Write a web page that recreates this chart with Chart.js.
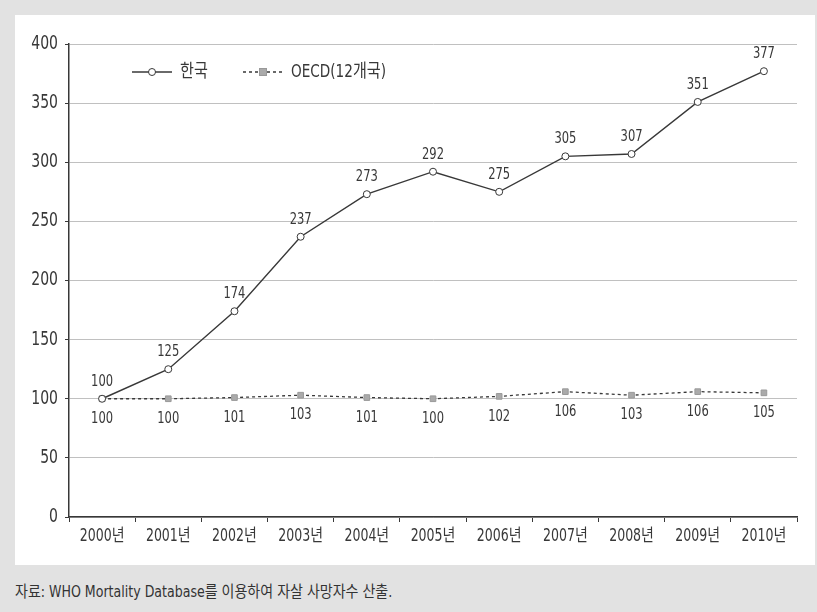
<!DOCTYPE html>
<html>
<head>
<meta charset="utf-8">
<script src="https://cdn.jsdelivr.net/npm/chart.js@4"></script>
<style>
  html, body { margin: 0; padding: 0; }
  body { width: 817px; height: 612px; background: #e2e2e2; position: relative; overflow: hidden;
         font-family: 'DejaVu Sans Condensed', 'Noto Sans CJK KR', sans-serif; }
  #panel { position: absolute; left: 15px; top: 15px; width: 800px; height: 550px; background: #fff; }
  #note { position: absolute; left: 15px; top: 578px; font-size: 16px; color: #333; white-space: nowrap;
          transform: scaleX(0.875); transform-origin: left top; }
</style>
</head>
<body>
<div id="panel"><canvas id="chart" width="800" height="550"></canvas></div>
<div id="note">자료: WHO Mortality Database를 이용하여 자살 사망자수 산출.</div>
<script>
const years = ['2000년', '2001년', '2002년', '2003년', '2004년', '2005년', '2006년', '2007년', '2008년', '2009년', '2010년'];
const korea = [100, 125, 174, 237, 273, 292, 275, 305, 307, 351, 377];
const oecd = [100, 100, 101, 103, 101, 100, 102, 106, 103, 106, 105];
const seriesNames = ['한국', 'OECD(12개국)'];
const yTicks = [0, 50, 100, 150, 200, 250, 300, 350, 400];

const FONT = "'DejaVu Sans Condensed', 'Noto Sans CJK KR', sans-serif";
const INK = '#383838';

// narrow text: squeeze glyphs horizontally around the anchor point
function narrowText(ctx, text, x, y, size, squeeze, align) {
  ctx.save();
  ctx.font = size + 'px ' + FONT;
  ctx.textAlign = align || 'center';
  ctx.textBaseline = 'middle';
  ctx.translate(x, y);
  ctx.scale(squeeze, 1);
  ctx.fillText(text, 0, 0);
  ctx.restore();
}

// tick labels for both axes, drawn at the scales' own tick positions
const axisLabels = {
  id: 'axisLabels',
  afterDraw(chart) {
    const ctx = chart.ctx;
    const xs = chart.scales.x, ys = chart.scales.y;
    ctx.save();
    ctx.fillStyle = INK;
    ys.ticks.forEach(t => {
      narrowText(ctx, String(t.value), ys.right - 11, ys.getPixelForValue(t.value), 19, 0.82, 'right');
    });
    chart.data.labels.forEach((lab, i) => {
      narrowText(ctx, lab, xs.getPixelForTick(i), xs.top + 20, 17, 0.82, 'center');
    });
    ctx.restore();
  }
};

// value labels: Korea above its points, OECD below
const valueLabels = {
  id: 'valueLabels',
  afterDatasetsDraw(chart) {
    const ctx = chart.ctx;
    ctx.save();
    ctx.fillStyle = INK;
    chart.data.datasets.forEach((ds, i) => {
      chart.getDatasetMeta(i).data.forEach((pt, j) => {
        const dy = i === 0 ? -17 : 20;
        narrowText(ctx, String(ds.data[j]), pt.x, pt.y + dy, 16, 0.8, 'center');
      });
    });
    ctx.restore();
  }
};

// legend drawn inside the plot: line sample with marker, then name
const innerLegend = {
  id: 'innerLegend',
  afterDraw(chart) {
    const ctx = chart.ctx;
    const y = 57;
    const items = [
      { x: 117, ds: chart.data.datasets[0] },
      { x: 228, ds: chart.data.datasets[1] }
    ];
    ctx.save();
    items.forEach(it => {
      const ds = it.ds;
      ctx.strokeStyle = ds.borderColor;
      ctx.lineWidth = 1.3;
      ctx.setLineDash(ds.borderDash || []);
      ctx.beginPath();
      ctx.moveTo(it.x, y);
      ctx.lineTo(it.x + 40, y);
      ctx.stroke();
      ctx.setLineDash([]);
      const cx = it.x + 20;
      ctx.fillStyle = ds.pointBackgroundColor;
      ctx.strokeStyle = ds.pointBorderColor;
      ctx.lineWidth = 1;
      if (ds.pointStyle === 'rect') {
        ctx.fillRect(cx - 3.5, y - 3.5, 7, 7);
        ctx.strokeRect(cx - 3.5, y - 3.5, 7, 7);
      } else {
        ctx.beginPath();
        ctx.arc(cx, y, 3.5, 0, Math.PI * 2);
        ctx.fill();
        ctx.stroke();
      }
      ctx.fillStyle = INK;
      narrowText(ctx, ds.label, it.x + 48, y, 18, 0.84, 'left');
    });
    ctx.restore();
  }
};

new Chart(document.getElementById('chart'), {
  type: 'line',
  data: {
    labels: years,
    datasets: [{
      label: seriesNames[0],
      data: korea,
      borderColor: INK,
      borderWidth: 1.4,
      pointStyle: 'circle',
      pointRadius: 3.5,
      pointBackgroundColor: '#fff',
      pointBorderColor: INK,
      pointBorderWidth: 1,
      tension: 0
    }, {
      label: seriesNames[1],
      data: oecd,
      borderColor: INK,
      borderWidth: 1.3,
      borderDash: [3, 3],
      pointStyle: 'rect',
      pointRadius: 4,
      pointBackgroundColor: '#aaa',
      pointBorderColor: '#999',
      pointBorderWidth: 1,
      tension: 0
    }]
  },
  options: {
    responsive: false,
    animation: false,
    layout: { padding: { top: 29, right: 18, left: 0, bottom: 0 } },
    plugins: {
      legend: { display: false },
      tooltip: { enabled: false }
    },
    scales: {
      x: {
        offset: true,
        grid: {
          offset: true,
          drawOnChartArea: false,
          drawTicks: true,
          tickLength: 5,
          tickColor: INK
        },
        border: { color: INK, width: 1.5 },
        ticks: { display: false },
        afterFit(scale) { scale.height = 48; }
      },
      y: {
        min: 0,
        max: 400,
        afterBuildTicks(scale) { scale.ticks = yTicks.map(v => ({ value: v })); },
        grid: {
          color: '#c0c0c0',
          lineWidth: 1,
          tickLength: 4,
          tickColor: INK,
          drawTicks: true
        },
        border: { color: INK, width: 1.5 },
        ticks: { display: false },
        afterFit(scale) { scale.width = 54; }
      }
    }
  },
  plugins: [valueLabels, axisLabels, innerLegend]
});
</script>
</body>
</html>
